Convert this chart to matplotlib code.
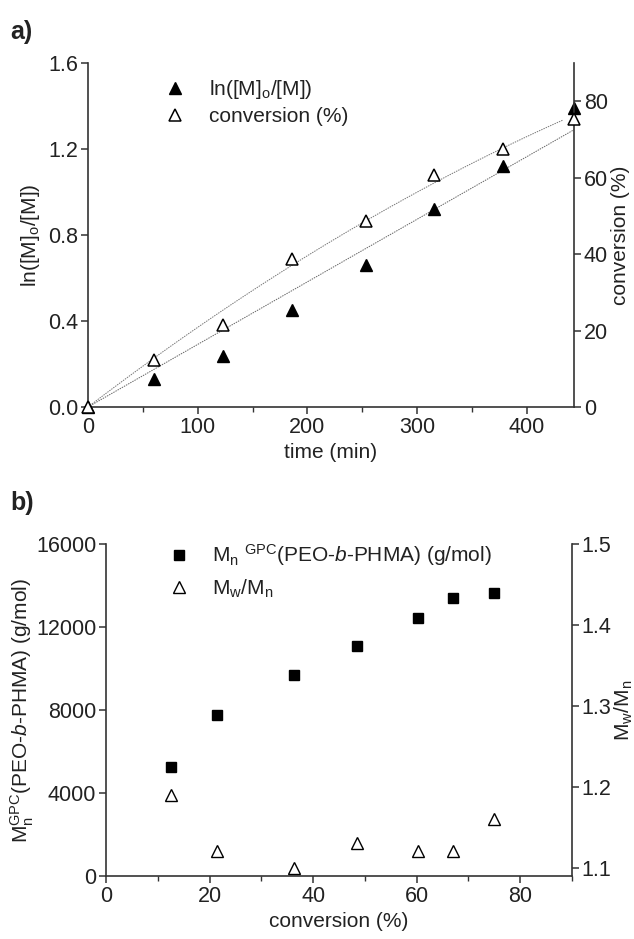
import numpy as np
import matplotlib
matplotlib.use("Agg")
import matplotlib.pyplot as plt
from matplotlib.lines import Line2D

FONT = ['Liberation Sans Narrow', 'Liberation Sans', 'DejaVu Sans']
plt.rcParams['font.family'] = FONT
plt.rcParams['mathtext.fontset'] = 'custom'
plt.rcParams['mathtext.rm'] = 'Liberation Sans'
plt.rcParams['mathtext.it'] = 'Liberation Sans:italic'
plt.rcParams['mathtext.bf'] = 'Liberation Sans:bold'

# ---- data panel a ----
time_min = [0, 60, 123, 186, 253, 315, 378, 443]
ln_m0_m = [0.0, 0.130, 0.239, 0.450, 0.662, 0.921, 1.119, 1.391]
conversion_a = [0.0, 12.4, 21.5, 38.7, 48.7, 60.6, 67.6, 75.4]

# ---- data panel b ----
conversion_b = [12.5, 21.5, 36.3, 48.4, 60.3, 67.1, 74.9]
mn_gpc = [5260, 7750, 9700, 11080, 12430, 13410, 13620]
mw_mn = [1.19, 1.12, 1.10, 1.13, 1.12, 1.12, 1.16]

FS = 15.5
LFS = 15
TXT = '#222222'
AX = '#333333'

fig = plt.figure(figsize=(6.34, 9.39), dpi=100)

def style(ax):
    for s in ['left', 'bottom', 'right']:
        ax.spines[s].set_color(AX)
        ax.spines[s].set_linewidth(1.2)
    ax.spines['top'].set_visible(False)
    ax.tick_params(which='major', direction='out', length=5, width=1.1,
                   colors=AX, labelcolor=TXT, labelsize=FS, pad=2)
    ax.tick_params(which='minor', direction='out', length=3.5, width=1.0, colors=AX)

# ---------- panel a ----------
axa = fig.add_axes([88/634, 1-407/939, 486/634, 344/939])
axa2 = axa.twinx()
t = np.array(time_min, float)
y = np.array(ln_m0_m, float)
c = np.array(conversion_a, float)

# linear fit through origin of ln([M]o/[M])
k = np.sum(t*y)/np.sum(t*t)
tt = np.linspace(0, 443, 100)
axa.plot(tt, k*tt, ls=(0, (1.5, 1)), lw=0.7, color='#666666', zorder=1)
# quadratic fit through origin of conversion
A = np.vstack([t, t**2]).T
coef, *_ = np.linalg.lstsq(A, c, rcond=None)
tc = np.linspace(0, 433, 100)
axa2.plot(tc, coef[0]*tc + coef[1]*tc**2, ls=(0, (1.5, 1)), lw=0.7, color='#777777', zorder=1)

axa.plot(t, y, ls='none', marker='^', ms=8, mfc='black', mec='black', clip_on=False, zorder=3)
axa2.plot(t, c, ls='none', marker='^', ms=8, mfc='white', mec='black', mew=1.1, clip_on=False, zorder=3)

axa.set_xlim(0, 443)
axa.set_ylim(0, 1.6)
axa2.set_ylim(0, 90)
axa.set_xticks([0, 100, 200, 300, 400])
axa.set_xticks([50, 150, 250, 350], minor=True)
axa.set_yticks([0.0, 0.4, 0.8, 1.2, 1.6])
axa.set_yticklabels(['0.0', '0.4', '0.8', '1.2', '1.6'])
axa2.set_yticks([0, 20, 40, 60, 80])
style(axa); style(axa2)
axa2.spines['left'].set_visible(False)
axa2.spines['bottom'].set_visible(False)
axa.spines['right'].set_visible(False)
axa.set_xlabel('time (min)', fontsize=LFS, color=TXT, labelpad=4)
axa.set_ylabel('ln([M]$_\\mathrm{o}$/[M])', fontsize=LFS, color=TXT, labelpad=4)
axa2.set_ylabel('conversion (%)', fontsize=LFS, color=TXT, labelpad=2)

h1 = Line2D([], [], ls='none', marker='^', ms=8, mfc='black', mec='black')
h2 = Line2D([], [], ls='none', marker='^', ms=8, mfc='white', mec='black', mew=1.1)
axa.legend([h1, h2], ['ln([M]$_\\mathrm{o}$/[M])', 'conversion (%)'],
           loc='upper left', bbox_to_anchor=(0.12, 0.98), frameon=False,
           fontsize=LFS, handletextpad=0.6, labelspacing=0.3, borderaxespad=0,
           labelcolor=TXT)

fig.text(10/634, 1-32/939, 'a)', fontsize=18, fontweight='bold', color=TXT,
         va='center', ha='left')

# ---------- panel b ----------
axb = fig.add_axes([106/634, 1-876/939, 466/634, 332/939])
axb2 = axb.twinx()
axb.plot(conversion_b, mn_gpc, ls='none', marker='s', ms=6.5, mfc='black', mec='black', zorder=3)
axb2.plot(conversion_b, mw_mn, ls='none', marker='^', ms=8, mfc='white', mec='black', mew=1.0, zorder=3)
axb.set_xlim(0, 90)
axb.set_ylim(0, 16000)
axb2.set_ylim(1.0897, 1.5)
axb.set_xticks([0, 20, 40, 60, 80])
axb.set_xticks([10, 30, 50, 70, 90], minor=True)
axb.set_yticks([0, 4000, 8000, 12000, 16000])
axb2.set_yticks([1.1, 1.2, 1.3, 1.4, 1.5])
style(axb); style(axb2)
axb2.spines['left'].set_visible(False)
axb2.spines['bottom'].set_visible(False)
axb.spines['right'].set_visible(False)
axb.set_xlabel('conversion (%)', fontsize=LFS, color=TXT, labelpad=4)
axb.set_ylabel('M$_\\mathrm{n}^\\mathrm{GPC}$(PEO-$\\mathit{b}$-PHMA) (g/mol)', fontsize=LFS, color=TXT, labelpad=0)
axb2.set_ylabel('M$_\\mathrm{w}$/M$_\\mathrm{n}$', fontsize=LFS, color=TXT, labelpad=1)

h3 = Line2D([], [], ls='none', marker='s', ms=6.5, mfc='black', mec='black')
h4 = Line2D([], [], ls='none', marker='^', ms=8, mfc='white', mec='black', mew=1.0)
axb.legend([h3, h4], ['M$_\\mathrm{n}$ $^\\mathrm{GPC}$(PEO-$\\mathit{b}$-PHMA) (g/mol)', 'M$_\\mathrm{w}$/M$_\\mathrm{n}$'],
           loc='upper left', bbox_to_anchor=(0.094, 1.03), frameon=False,
           fontsize=LFS, handletextpad=0.6, labelspacing=0.45, borderaxespad=0,
           labelcolor=TXT)

fig.text(10/634, 1-503/939, 'b)', fontsize=18, fontweight='bold', color=TXT,
         va='center', ha='left')

fig.savefig('out.png', dpi=100)
